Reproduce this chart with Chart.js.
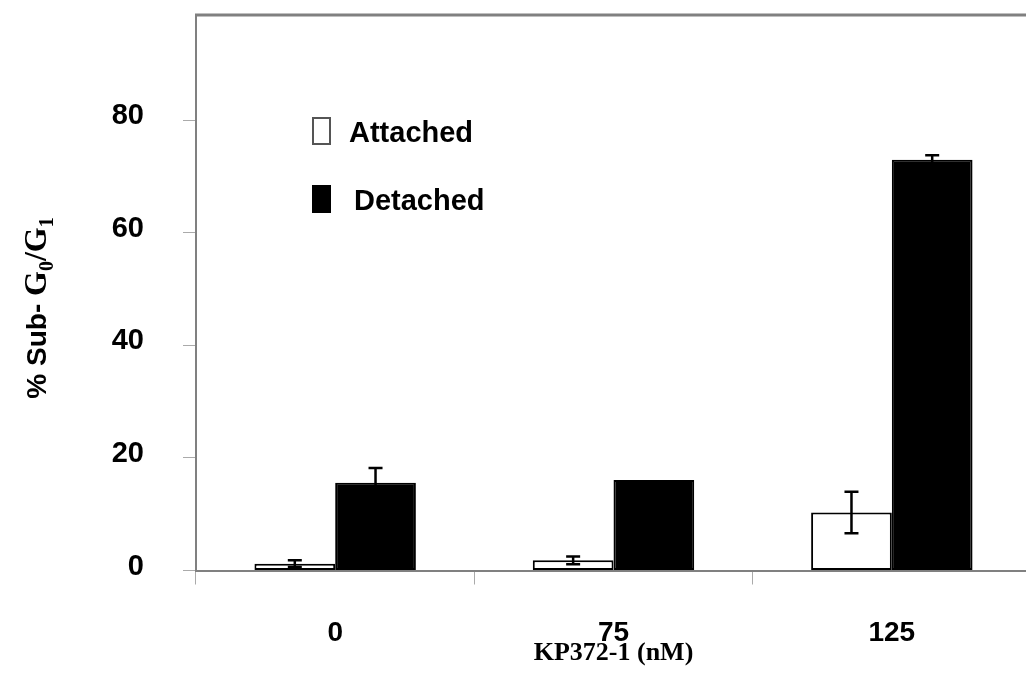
<!DOCTYPE html>
<html>
<head>
<meta charset="utf-8">
<script src="https://cdn.jsdelivr.net/npm/chart.js@4"></script>
<style>
  html, body { margin: 0; padding: 0; background: #fff; overflow: hidden; }
  #wrap { width: 1034px; height: 691px; position: relative; }
</style>
</head>
<body>
<div id="wrap"><canvas id="subG1Chart"></canvas></div>
<script>
const doses = ['0', '75', '125'];
const seriesNames = ['Attached', 'Detached'];
const attached = [1.2, 1.8, 10.3];
const attachedErr = [0.6, 0.7, 3.7];
const detached = [15.6, 16.1, 73.0];
const detachedErr = [2.6, 0, 0.8];
const yTicks = [0, 20, 40, 60, 80];
const yMax = 98.7;

const GRAY = '#808080';

// error bars drawn on top of each bar
const errorBars = {
    id: 'errorBars',
    afterDatasetsDraw(chart) {
        const ctx = chart.ctx;
        const y = chart.scales.y;
        ctx.save();
        ctx.strokeStyle = '#000';
        ctx.lineWidth = 2.5;
        chart.data.datasets.forEach((ds, i) => {
            chart.getDatasetMeta(i).data.forEach((bar, j) => {
                const e = ds.errors[j];
                if (!e) return;
                const top = y.getPixelForValue(ds.data[j] + e);
                const bot = y.getPixelForValue(ds.data[j] - e);
                ctx.beginPath();
                ctx.moveTo(bar.x, top); ctx.lineTo(bar.x, bot);
                ctx.moveTo(bar.x - 7, top); ctx.lineTo(bar.x + 7, top);
                ctx.moveTo(bar.x - 7, bot); ctx.lineTo(bar.x + 7, bot);
                ctx.stroke();
            });
        });
        ctx.restore();
    }
};

// frame line at the top, legend inside the plot, y title with subscripts
const decorations = {
    id: 'decorations',
    afterDraw(chart) {
        const ctx = chart.ctx;
        const a = chart.chartArea;
        ctx.save();
        ctx.strokeStyle = GRAY;
        ctx.lineWidth = 3;
        ctx.beginPath();
        ctx.moveTo(a.left - 1, a.top); ctx.lineTo(a.right + 5, a.top);
        ctx.stroke();

        // legend
        const rows = [{ y: 131, tx: 349 }, { y: 199, tx: 354 }];
        chart.data.datasets.forEach((ds, i) => {
            const r = rows[i];
            ctx.fillStyle = ds.backgroundColor;
            ctx.fillRect(313, r.y - 13, 17, 26);
            ctx.strokeStyle = i === 0 ? '#555' : '#000';
            ctx.lineWidth = 2;
            ctx.strokeRect(313, r.y - 13, 17, 26);
            ctx.fillStyle = '#000';
            ctx.font = 'bold 29px "Liberation Sans", Arial, sans-serif';
            ctx.textBaseline = 'middle';
            ctx.textAlign = 'left';
            ctx.fillText(ds.label, r.tx, r.y + 3);
        });

        // y axis title: % Sub- G0/G1
        const parts = [
            { t: '% Sub- ', f: 'bold 28px "Liberation Sans", Arial, sans-serif', dy: 0 },
            { t: 'G', f: 'bold 32px "Liberation Serif", "Times New Roman", serif', dy: 0 },
            { t: '0', f: 'bold 20px "Liberation Serif", "Times New Roman", serif', dy: 7 },
            { t: '/G', f: 'bold 32px "Liberation Serif", "Times New Roman", serif', dy: 0 },
            { t: '1', f: 'bold 20px "Liberation Serif", "Times New Roman", serif', dy: 7 }
        ];
        let total = 0;
        parts.forEach(p => { ctx.font = p.f; p.w = ctx.measureText(p.t).width; total += p.w; });
        ctx.translate(46, 308);
        ctx.rotate(-Math.PI / 2);
        ctx.fillStyle = '#000';
        ctx.textAlign = 'left';
        ctx.textBaseline = 'alphabetic';
        let x = -total / 2;
        parts.forEach(p => { ctx.font = p.f; ctx.fillText(p.t, x, p.dy); x += p.w; });
        ctx.restore();
    }
};

const ctxSub = document.getElementById('subG1Chart');
const subChart = new Chart(ctxSub, {
    type: 'bar',
    data: {
        labels: doses,
        datasets: [
            { label: seriesNames[0], data: attached, errors: attachedErr, backgroundColor: '#ffffff', borderColor: '#000', borderWidth: 2, borderSkipped: false },
            { label: seriesNames[1], data: detached, errors: detachedErr, backgroundColor: '#000000', borderColor: '#000', borderWidth: 2, borderSkipped: false }
        ]
    },
    options: {
        responsive: true,
        maintainAspectRatio: false,
        animation: false,
        layout: { padding: { top: 15, right: 3, left: 0, bottom: 0 } },
        datasets: { bar: { categoryPercentage: 0.58, barPercentage: 1.0 } },
        plugins: { legend: { display: false }, tooltip: { enabled: false } },
        scales: {
            x: {
                offset: true,
                grid: { offset: true, drawOnChartArea: false, drawTicks: true, tickLength: 14, color: '#aaa', lineWidth: 1 },
                border: { color: GRAY, width: 2 },
                ticks: { color: '#000', padding: 32, font: { family: '"Liberation Sans", Arial, sans-serif', size: 28, weight: 'bold' } },
                title: { display: true, text: 'KP372-1 (nM)', color: '#000', padding: { top: 0, bottom: 22 }, font: { family: '"Liberation Serif", "Times New Roman", serif', size: 26, weight: 'bold' } },
                afterFit(scale) { scale.height = 120.5; scale.paddingLeft = 0; scale.paddingRight = 0; }
            },
            y: {
                min: 0,
                max: yMax,
                grid: { drawOnChartArea: false, drawTicks: true, tickLength: 13, color: '#aaa', lineWidth: 1 },
                border: { color: GRAY, width: 2 },
                ticks: { stepSize: 20, color: '#000', padding: 39, labelOffset: -4, font: { family: '"Liberation Sans", Arial, sans-serif', size: 29, weight: 'bold' } },
                afterBuildTicks(scale) { scale.ticks = yTicks.map(v => ({ value: v })); },
                afterFit(scale) { scale.width = 196; scale.paddingTop = 0; scale.paddingBottom = 0; }
            }
        }
    },
    plugins: [errorBars, decorations]
});
</script>
</body>
</html>
